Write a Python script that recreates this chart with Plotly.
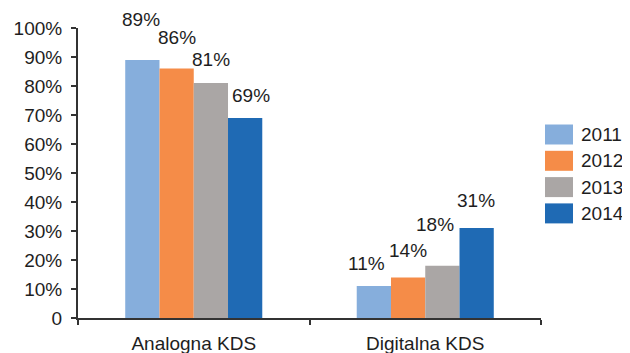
import plotly.graph_objects as go

categories = ["Analogna KDS", "Digitalna KDS"]
years = ["2011", "2012", "2013", "2014"]
values_2011 = [0.89, 0.11]
values_2012 = [0.86, 0.14]
values_2013 = [0.81, 0.18]
values_2014 = [0.69, 0.31]
series = [values_2011, values_2012, values_2013, values_2014]
colors = ["#86AEDC", "#F58C48", "#AAA6A5", "#1F6AB4"]
y_tickvals = [0, 0.1, 0.2, 0.3, 0.4, 0.5, 0.6, 0.7, 0.8, 0.9, 1.0]
y_ticktext = ["0", "10%", "20%", "30%", "40%", "50%", "60%", "70%", "80%", "90%", "100%"]

# label placement offsets (pixels) relative to the top-centre of each bar
label_dx = [[-1, -7], [0, 0], [0, -7], [6, -1]]
label_dy = [[40, 23], [31, 27], [24, 41], [22, 28]]

# the page body has an 8px margin, so the figure is placed 8px right/down
OFF = 8
W, H = 630 - OFF, 353 - OFF
ML, MR, MT, MB = 78 - OFF, 89, 28 - OFF, 35
BARGAP = 0.408
TXT = "#1e1e1e"
FONT = "Liberation Sans"
FS = 19

fig = go.Figure()
for yr, vals, col in zip(years, series, colors):
    fig.add_trace(go.Bar(x=categories, y=vals, name=yr, marker=dict(color=col, line=dict(width=0)),
                         showlegend=False))

plot_w = W - ML - MR
plot_h = H - MT - MB
cat_w = plot_w / len(categories)
bar_w = cat_w * (1 - BARGAP) / len(years)

annotations = []
for i, vals in enumerate(series):
    for j, v in enumerate(vals):
        annotations.append(dict(
            x=categories[j], y=v, xref="x", yref="y",
            text=f"{round(v*100)}%", showarrow=False,
            xshift=(i - (len(years) - 1) / 2) * bar_w + label_dx[i][j],
            yshift=label_dy[i][j], yanchor="middle", xanchor="center",
            font=dict(family=FONT, size=FS, color=TXT)))

# manual legend with larger swatches (pixel positions in the page)
shapes = []
leg_x0, leg_x1, leg_text_x = 545, 573, 579
leg_y0, leg_step, sw_h = 134.5, 26.3, 20
def px_to_paper_x(px):
    return (px - OFF - ML) / plot_w
def py_to_paper_y(py):
    return (H - MB - (py - OFF)) / plot_h
for k, (yr, col) in enumerate(zip(years, colors)):
    cy = leg_y0 + k * leg_step
    shapes.append(dict(type="rect", xref="paper", yref="paper",
                       x0=px_to_paper_x(leg_x0), x1=px_to_paper_x(leg_x1),
                       y0=py_to_paper_y(cy + sw_h / 2), y1=py_to_paper_y(cy - sw_h / 2),
                       fillcolor=col, line=dict(width=0)))
    annotations.append(dict(x=px_to_paper_x(leg_text_x), y=py_to_paper_y(cy),
                            xref="paper", yref="paper", text=yr, showarrow=False,
                            xanchor="left", yanchor="middle",
                            font=dict(family=FONT, size=FS, color=TXT)))

fig.update_layout(
    width=W, height=H,
    margin=dict(l=ML, r=MR, t=MT, b=MB, pad=0, autoexpand=False),
    paper_bgcolor="white", plot_bgcolor="white",
    barmode="group", bargap=BARGAP, bargroupgap=0,
    font=dict(family=FONT, size=FS, color=TXT),
    showlegend=False,
    annotations=annotations, shapes=shapes,
    xaxis=dict(type="category", showline=True, linecolor="#333333", linewidth=2,
               ticks="outside", tickson="boundaries", ticklen=5, tickwidth=2, tickcolor="#333333",
               ticklabelstandoff=7, automargin=False,
               showgrid=False, tickfont=dict(family=FONT, size=FS, color=TXT)),
    yaxis=dict(range=[0, 1], tickvals=y_tickvals, ticktext=y_ticktext,
               showline=True, linecolor="#333333", linewidth=2,
               ticks="outside", ticklen=5, tickwidth=2, tickcolor="#333333",
               ticklabelstandoff=5, automargin=False,
               showgrid=False, zeroline=False,
               tickfont=dict(family=FONT, size=FS, color=TXT)),
)

fig.write_html("out.html")
